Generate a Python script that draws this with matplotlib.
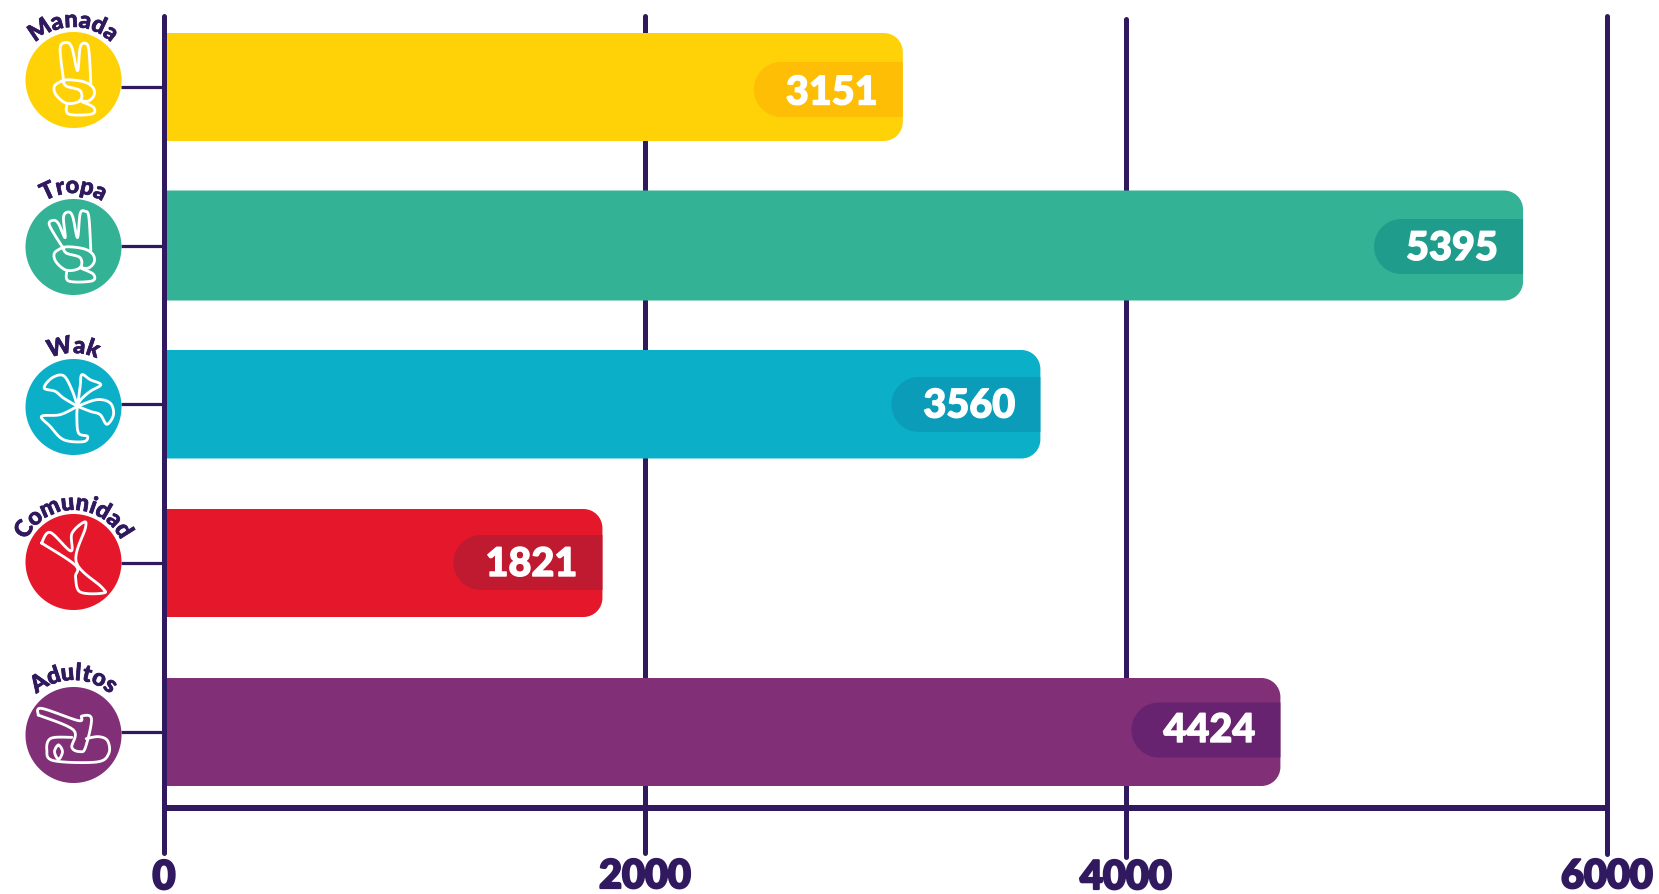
import numpy as np
import matplotlib
matplotlib.use("Agg")
import matplotlib.pyplot as plt
import matplotlib.patheffects as pe
from matplotlib.path import Path
from matplotlib.patches import PathPatch
from matplotlib.textpath import TextPath
from matplotlib.font_manager import FontProperties

# ---------- data ----------
categories = ["Manada", "Tropa", "Wak", "Comunidad", "Adultos"]
printed_values = [3151, 5395, 3560, 1821, 4424]
# drawn bar lengths as read against the axis (the picture's bars differ from their printed labels)
bar_lengths = [3072, 5651, 3644, 1823, 4642]
x_ticks = [0, 2000, 4000, 6000]

bar_colors = ["#FFD208", "#33B295", "#0BB0C8", "#E5172B", "#812F76"]
pill_colors = ["#FDBE05", "#1F9C8B", "#0A9CB8", "#BF1A30", "#682370"]
INK = "#30195F"

# ---------- layout (pixels) ----------
W, H = 1659, 894
X0, PX_PER_UNIT = 164, 0.2405
bar_top = [33, 190.5, 350, 509, 678]
bar_bot = [141, 300.5, 458.5, 617, 786]
pill_cy = [89.5, 246.5, 404.5, 562.5, 730]
text_cy = [93, 248.5, 406, 564.5, 730.5]
line_cy = [87, 246, 404, 563, 732]
icon_cy = [80, 247, 407, 562, 735]
icon_cx, icon_r = 73.5, 48
tick_top = [16, 16, 19, 16]
tick_bot = [853, 853, 857, 854]
tick_lab_y = [877.5, 876.5, 877.5, 876.5]
label_r = [53, 54, 54, 52, 55]

FONT = "Lato"
fig = plt.figure(figsize=(W / 100, H / 100), dpi=100, facecolor="white")
ax = fig.add_axes([0, 0, 1, 1])
ax.set_xlim(-X0 / PX_PER_UNIT, (W - X0) / PX_PER_UNIT)
ax.set_ylim(H, 0)
ax.axis("off")
px = 0.72  # points per pixel
U = 1 / PX_PER_UNIT  # data units per pixel in x


def fat(color, w):
    return [pe.withStroke(linewidth=w, foreground=color)]


def right_rounded(x0, x1, y0, y1, r):
    rx = r * U
    k = 0.5523
    return Path(
        [(x0, y0), (x1 - rx, y0), (x1 - rx * (1 - k), y0), (x1, y0 + r * (1 - k)), (x1, y0 + r),
         (x1, y1 - r), (x1, y1 - r * (1 - k)), (x1 - rx * (1 - k), y1), (x1 - rx, y1), (x0, y1), (x0, y0)],
        [Path.MOVETO, Path.LINETO, Path.CURVE4, Path.CURVE4, Path.CURVE4,
         Path.LINETO, Path.CURVE4, Path.CURVE4, Path.CURVE4, Path.LINETO, Path.CLOSEPOLY],
    )


def left_pill(x0, x1, y0, y1):
    r = (y1 - y0) / 2
    rx = r * U
    k = 0.5523
    return Path(
        [(x1, y0), (x1, y1), (x0 + rx, y1),
         (x0 + rx * (1 - k), y1), (x0, y1 - r * (1 - k)), (x0, y1 - r),
         (x0, y0 + r * (1 - k)), (x0 + rx * (1 - k), y0), (x0 + rx, y0), (x1, y0)],
        [Path.MOVETO, Path.LINETO, Path.LINETO, Path.CURVE4, Path.CURVE4, Path.CURVE4,
         Path.CURVE4, Path.CURVE4, Path.CURVE4, Path.CLOSEPOLY],
    )


# grid / ticks behind the bars
for t, a, b in zip(x_ticks[1:], tick_top[1:], tick_bot[1:]):
    ax.plot([t, t], [a, b], color=INK, lw=5 * px, solid_capstyle="round", zorder=1)
ax.plot([x_ticks[0], x_ticks[-1]], [808, 808], color=INK, lw=6 * px, solid_capstyle="butt", zorder=1)

# bars and value pills
for i, v in enumerate(bar_lengths):
    ax.add_patch(PathPatch(right_rounded(0, v, bar_top[i], bar_bot[i], 19), fc=bar_colors[i], ec="none", zorder=2))
    ax.add_patch(PathPatch(left_pill(v - 149 * U, v, pill_cy[i] - 27.5, pill_cy[i] + 27.5),
                           fc=pill_colors[i], ec="none", zorder=3))
    ax.text(v - 71 * U, text_cy[i], str(printed_values[i]), color="white", fontsize=28.5,
            family=FONT, weight="black", ha="center", va="center", zorder=4,
            path_effects=fat("white", 1.0))

# zero axis on top
ax.plot([0, 0], [tick_top[0], tick_bot[0]], color=INK, lw=5 * px, solid_capstyle="round", zorder=5)

# tick labels
for t, y in zip(x_ticks, tick_lab_y):
    ax.text(t, y, str(t), color=INK, fontsize=28.5, family=FONT, weight="black",
            ha="center", va="center", zorder=5, path_effects=fat(INK, 1.6))


def to_x(pxv):
    return (np.asarray(pxv, float) - X0) * U


def smooth(pts, closed=False, n=8):
    """Catmull-Rom curve through the outline points."""
    p = np.asarray(pts, float)
    if closed:
        q = np.vstack([p[-1], p, p[0], p[1]])
    else:
        q = np.vstack([p[0], p, p[-1]])
    out = []
    t = np.linspace(0, 1, n, endpoint=False)[:, None]
    for a, b, c, d in zip(q[:-3], q[1:-2], q[2:-1], q[3:]):
        out.append(0.5 * (2 * b + (c - a) * t + (2 * a - 5 * b + 4 * c - d) * t**2 + (3 * b - a - 3 * c + d) * t**3))
    out.append(q[-2][None, :])
    return np.vstack(out)


fist = [
    ([(190, 240), (163, 258), (168, 285), (200, 310), (240, 302), (240, 272), (198, 258), (195, 240), (250, 245), (278, 262), (282, 285), (265, 303), (240, 302)], False),
    ([(200, 310), (205, 342), (275, 342), (280, 322), (245, 305)], False),
]
icons = {
    "Manada": ((220, 240), [
        ([(190, 240), (180, 145), (198, 128), (215, 142), (232, 212), (240, 142), (255, 130), (266, 150), (272, 250)], False),
    ] + fist),
    "Tropa": ((220, 240), [
        ([(190, 245), (148, 175), (160, 160), (175, 170), (195, 212), (190, 150), (205, 135), (218, 150), (232, 212), (240, 140), (255, 133), (266, 150), (272, 250)], False),
    ] + fist),
    "Wak": ((220, 262), [
        ([(232, 260), (190, 235), (165, 215), (132, 205), (155, 175), (190, 168), (215, 210), (232, 260)], False),
        ([(232, 260), (240, 200), (245, 165), (270, 180), (302, 195), (270, 215), (242, 240), (232, 260)], False),
        ([(232, 260), (290, 240), (330, 250), (340, 285), (320, 314), (300, 285), (270, 275), (232, 260)], False),
        ([(232, 260), (180, 285), (124, 290), (150, 320), (190, 360), (250, 366), (262, 350), (235, 340), (230, 290), (232, 260)], False),
    ]),
    "Comunidad": ((220, 725), [
        ([(124, 668), (150, 636), (212, 692), (215, 640), (250, 606), (256, 622), (228, 725), (304, 800), (310, 818), (240, 815), (226, 770), (226, 735), (124, 668)], False),
    ]),
    "Adultos": ((220, 285), [
        ([(114, 225), (124, 205), (235, 242), (245, 228), (274, 236), (256, 322), (240, 335), (215, 322), (220, 270), (114, 225)], False),
        ([(215, 292), (152, 295), (140, 330), (160, 362), (290, 366), (326, 340), (322, 302), (295, 290), (258, 296)], False),
        ([(175, 315), (187, 335), (175, 358), (163, 335)], True),
    ]),
}

fp = FontProperties(family=FONT, weight="black", size=17)

for i, name in enumerate(categories):
    cy = icon_cy[i]
    # connector
    ax.plot(to_x([icon_cx + icon_r - 1, X0]), [line_cy[i], line_cy[i]], color=INK, lw=3.2 * px, solid_capstyle="butt", zorder=1)
    # disc drawn as a path so it stays round under the axis' unequal scaling
    th = np.linspace(0, 2 * np.pi, 200)
    ax.fill(to_x(icon_cx + icon_r * np.cos(th)), cy + icon_r * np.sin(th), color=bar_colors[i], lw=0, zorder=6)
    # outline glyph
    (zx, zy), strokes = icons[name]
    for pts, closed in strokes:
        p = smooth(pts, closed)
        ax.plot(to_x(icon_cx + (p[:, 0] - zx) / 3), cy + (p[:, 1] - zy) / 3, color="white",
                lw=2.8 * px, solid_joinstyle="round", solid_capstyle="round", zorder=7)
    # curved label
    advances = [TextPath((0, 0), name[:k + 1], prop=fp).get_extents().x1 for k in range(len(name))]
    ends = np.array(advances) * (100 / 72) * 1.08
    starts = np.r_[0, ends[:-1]]
    mids = (starts + ends) / 2
    total = ends[-1]
    r = label_r[i]
    for ch, m in zip(name, mids):
        theta = (m - total / 2) / (r + 5)
        ax.text(to_x(icon_cx + r * np.sin(theta)), cy - r * np.cos(theta), ch, color=INK,
                fontproperties=fp, rotation=-np.degrees(theta), rotation_mode="anchor",
                ha="center", va="baseline", zorder=8, path_effects=fat(INK, 0.5))

fig.savefig("out.png", dpi=100, facecolor="white")
